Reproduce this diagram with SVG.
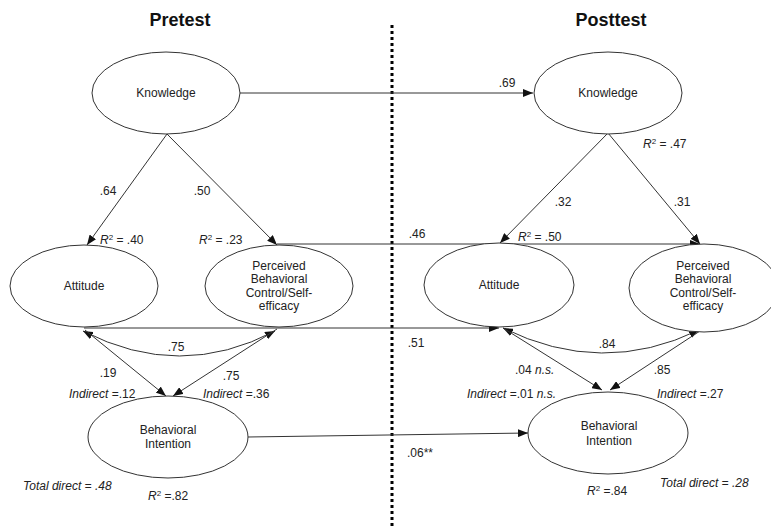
<svg xmlns="http://www.w3.org/2000/svg" width="771" height="527" viewBox="0 0 771 527">
<defs>
<marker id="ah" markerUnits="userSpaceOnUse" markerWidth="11" markerHeight="8" refX="10" refY="4" orient="auto-start-reverse">
<path d="M0,0 L10,4 L0,8 z" fill="#111"/>
</marker>
<style>
.n{fill:#fff;stroke:#333;stroke-width:1}
.t{font-family:"Liberation Sans",Arial,sans-serif;font-size:12px;fill:#222}
.c{text-anchor:middle}
.i{font-style:italic}
.h{font-family:"Liberation Sans",Arial,sans-serif;font-size:18px;font-weight:bold;fill:#111;text-anchor:middle}
.l{fill:none;stroke:#333;stroke-width:1}
.s{font-size:8px}
</style>
</defs>
<rect width="771" height="527" fill="#fff"/>
<text class="h" x="180" y="26">Pretest</text>
<text class="h" x="611" y="26">Posttest</text>
<line x1="392" y1="25" x2="392" y2="527" stroke="#000" stroke-width="3" stroke-dasharray="3 3"/>

<g id="connectors">
<line class="l" x1="240" y1="93" x2="533" y2="93" marker-end="url(#ah)"/>
<line class="l" x1="167" y1="134" x2="87" y2="245" marker-end="url(#ah)"/>
<line class="l" x1="167" y1="134" x2="277" y2="245" marker-end="url(#ah)"/>
<line class="l" x1="277" y1="244" x2="700" y2="244" marker-end="url(#ah)"/>
<line class="l" x1="608" y1="133" x2="500" y2="243" marker-end="url(#ah)"/>
<line class="l" x1="608" y1="133" x2="700" y2="244" marker-end="url(#ah)"/>
<line class="l" x1="84" y1="328" x2="499" y2="328" marker-end="url(#ah)"/>
<path class="l" d="M83,331 Q180,381 275,331" marker-start="url(#ah)" marker-end="url(#ah)"/>
<line class="l" x1="85" y1="330" x2="166" y2="396" marker-end="url(#ah)"/>
<line class="l" x1="277" y1="329" x2="173" y2="396" marker-end="url(#ah)"/>
<line class="l" x1="248" y1="437" x2="528" y2="433" marker-end="url(#ah)"/>
<path class="l" d="M503,328 Q602,377 699,330" marker-start="url(#ah)" marker-end="url(#ah)"/>
<line class="l" x1="503" y1="328" x2="602" y2="390" marker-end="url(#ah)"/>
<line class="l" x1="700" y1="331" x2="610" y2="390" marker-end="url(#ah)"/>
</g>

<g id="pre-knowledge">
<ellipse class="n" cx="166" cy="93" rx="74" ry="41"/>
<text class="t c" x="166" y="97">Knowledge</text>
</g>
<g id="pre-attitude">
<ellipse class="n" cx="84" cy="286" rx="74" ry="41"/>
<text class="t c" x="84" y="290">Attitude</text>
</g>
<g id="pre-pbc">
<ellipse class="n" cx="279" cy="286" rx="74" ry="41"/>
<text class="t c" x="279" y="270">Perceived</text>
<text class="t c" x="279" y="283">Behavioral</text>
<text class="t c" x="279" y="297">Control/Self-</text>
<text class="t c" x="279" y="310">efficacy</text>
</g>
<g id="pre-bi">
<ellipse class="n" cx="168" cy="437" rx="80" ry="41"/>
<text class="t c" x="168" y="434">Behavioral</text>
<text class="t c" x="168" y="448">Intention</text>
</g>
<g id="post-knowledge">
<ellipse class="n" cx="608" cy="93" rx="74" ry="41"/>
<text class="t c" x="608" y="97">Knowledge</text>
</g>
<g id="post-attitude">
<ellipse class="n" cx="499" cy="285" rx="75" ry="42"/>
<text class="t c" x="499" y="289">Attitude</text>
</g>
<g id="post-pbc">
<ellipse class="n" cx="704" cy="288" rx="75" ry="44"/>
<text class="t c" x="703" y="270">Perceived</text>
<text class="t c" x="703" y="283">Behavioral</text>
<text class="t c" x="703" y="297">Control/Self-</text>
<text class="t c" x="703" y="310">efficacy</text>
</g>
<g id="post-bi">
<ellipse class="n" cx="608" cy="433" rx="80" ry="41"/>
<text class="t c" x="609" y="430">Behavioral</text>
<text class="t c" x="609" y="445">Intention</text>
</g>

<g id="labels">
<text class="t c" x="507" y="87">.69</text>
<text class="t c" x="108" y="195">.64</text>
<text class="t c" x="202" y="195">.50</text>
<text class="t" x="100" y="244"><tspan class="i">R</tspan><tspan class="s" dy="-4">2</tspan><tspan dy="4"> = .40</tspan></text>
<text class="t" x="199" y="244"><tspan class="i">R</tspan><tspan class="s" dy="-4">2</tspan><tspan dy="4"> = .23</tspan></text>
<text class="t c" x="417" y="238">.46</text>
<text class="t c" x="563" y="206">.32</text>
<text class="t c" x="682" y="206">.31</text>
<text class="t" x="643" y="148"><tspan class="i">R</tspan><tspan class="s" dy="-4">2</tspan><tspan dy="4"> = .47</tspan></text>
<text class="t" x="518" y="241"><tspan class="i">R</tspan><tspan class="s" dy="-4">2</tspan><tspan dy="4"> = .50</tspan></text>
<text class="t c" x="176" y="351">.75</text>
<text class="t c" x="108" y="377">.19</text>
<text class="t c" x="231" y="380">.75</text>
<text class="t" x="69" y="398"><tspan class="i">Indirect</tspan> =.12</text>
<text class="t" x="203" y="398"><tspan class="i">Indirect</tspan> =.36</text>
<text class="t i" x="23" y="490">Total direct = .48</text>
<text class="t" x="148" y="500"><tspan class="i">R</tspan><tspan class="s" dy="-4">2</tspan><tspan dy="4"> =.82</tspan></text>
<text class="t c" x="416" y="347">.51</text>
<text class="t c" x="607" y="348">.84</text>
<text class="t" x="515" y="374">.04 <tspan class="i">n.s.</tspan></text>
<text class="t c" x="662" y="374">.85</text>
<text class="t" x="467" y="398"><tspan class="i">Indirect</tspan> =.01 <tspan class="i">n.s.</tspan></text>
<text class="t" x="657" y="398"><tspan class="i">Indirect</tspan> =.27</text>
<text class="t" x="407" y="457">.06**</text>
<text class="t" x="587" y="495"><tspan class="i">R</tspan><tspan class="s" dy="-4">2</tspan><tspan dy="4"> =.84</tspan></text>
<text class="t i" x="660" y="487">Total direct = .28</text>
</g>
</svg>
